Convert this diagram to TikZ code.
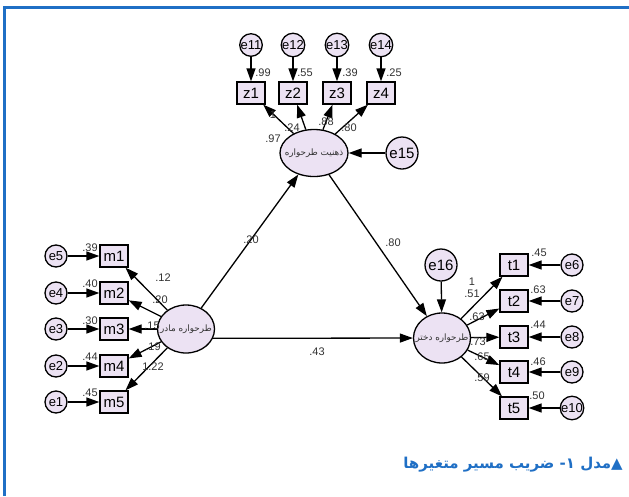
\documentclass[tikz,border=0pt]{standalone}
\usepackage{fontspec}
\setmainfont{Liberation Sans}
\newfontfamily\arabicfont[Script=Arabic]{DejaVu Sans}
\TeXXeTstate=1
\usetikzlibrary{arrows.meta,shapes.geometric}
\definecolor{lav}{RGB}{236,226,243}
\definecolor{frameblue}{RGB}{31,111,197}
\definecolor{lblgray}{RGB}{50,50,50}
\tikzset{
  obs/.style={draw, line width=1.3pt, fill=lav, minimum width=28pt, minimum height=22pt, inner sep=0pt, font=\fontsize{15}{15}\selectfont},
  err/.style={circle, draw, line width=1.3pt, fill=lav, minimum size=22pt, inner sep=0pt, font=\fontsize{13}{13}\selectfont},
  bigerr/.style={circle, draw, line width=1.3pt, fill=lav, minimum size=32pt, inner sep=0pt, font=\fontsize{15}{15}\selectfont},
  lat/.style={ellipse, draw, line width=1.3pt, fill=lav, inner sep=0pt, text=lblgray, font=\arabicfont\fontsize{8.8}{8.8}\selectfont},
  arr/.style={-{Triangle[length=13pt,width=9pt]}, line width=1.3pt},
  lbl/.style={font=\fontsize{11}{11}\selectfont, text=lblgray, inner sep=0pt},
}
\begin{document}
\begin{tikzpicture}[x=1pt,y=-1pt]
\useasboundingbox (0,0) rectangle (629,496);
\fill[white] (0,0) rectangle (629,496);
\draw[line width=3pt, frameblue] (4.5,496) -- (4.5,7.5) -- (629,7.5);

% latent variables
\node[lat, minimum width=68pt, minimum height=47pt] (top) at (314,153) {\makebox[0pt]{\beginR ذهنیت طرحواره\endR}};
\node[lat, minimum width=57pt, minimum height=48pt] (mother) at (186,329) {\makebox[0pt]{\beginR طرحواره مادر\endR}};
\node[lat, minimum width=57pt, minimum height=50pt] (daughter) at (442,338) {\makebox[0pt]{\beginR طرحواره دختر\endR}};

% top indicators
\foreach \i/\x in {1/251,2/293,3/337,4/381}{
  \node[obs] (z\i) at (\x,93) {z\i};
}
\node[err] (e11) at (251,45) {e11};
\node[err] (e12) at (293,45) {e12};
\node[err] (e13) at (337,45) {e13};
\node[err] (e14) at (381,45) {e14};
\node[bigerr] (e15) at (402,153) {e15};

% mother indicators
\node[obs] (m1) at (114,256) {m1};
\node[obs] (m2) at (114,293) {m2};
\node[obs] (m3) at (114,329) {m3};
\node[obs] (m4) at (114,366) {m4};
\node[obs] (m5) at (114,402) {m5};
\node[err] (e5) at (56,256) {e5};
\node[err] (e4) at (56,293) {e4};
\node[err] (e3) at (56,329) {e3};
\node[err] (e2) at (56,366) {e2};
\node[err] (e1) at (56,402) {e1};

% daughter indicators
\node[obs] (t1) at (514,265) {t1};
\node[obs] (t2) at (514,301) {t2};
\node[obs] (t3) at (514,337) {t3};
\node[obs] (t4) at (514,372) {t4};
\node[obs] (t5) at (514,408) {t5};
\node[err] (e6) at (572,265) {e6};
\node[err] (e7) at (572,301) {e7};
\node[err] (e8) at (572,337) {e8};
\node[err] (e9) at (572,372) {e9};
\node[err] (e10) at (572,408) {e10};
\node[bigerr] (e16) at (441,265) {e16};

% arrows
\foreach \i in {1,2,3,4}{ \draw[arr] (top) -- (z\i); }
\draw[arr] (e11) -- (z1);
\draw[arr] (e12) -- (z2);
\draw[arr] (e13) -- (z3);
\draw[arr] (e14) -- (z4);
\draw[arr] (e15) -- (top);

\foreach \i in {1,2,3,4,5}{ \draw[arr] (mother) -- (m\i); }
\draw[arr] (e5) -- (m1);
\draw[arr] (e4) -- (m2);
\draw[arr] (e3) -- (m3);
\draw[arr] (e2) -- (m4);
\draw[arr] (e1) -- (m5);

\foreach \i in {1,2,3,4,5}{ \draw[arr] (daughter) -- (t\i); }
\draw[arr] (e6) -- (t1);
\draw[arr] (e7) -- (t2);
\draw[arr] (e8) -- (t3);
\draw[arr] (e9) -- (t4);
\draw[arr] (e10) -- (t5);
\draw[arr] (e16) -- (daughter);

\draw[arr] (mother) -- (top);
\draw[arr] (top) -- (daughter);
\draw[arr] (mother.-19) -- (daughter);

% labels top
\node[lbl] at (263,73) {.99};
\node[lbl] at (305,73) {.55};
\node[lbl] at (350,73) {.39};
\node[lbl] at (394,73) {.25};
\node[lbl] at (273,115) {1};
\node[lbl] at (273,139) {.97};
\node[lbl] at (292,128) {.24};
\node[lbl] at (326,122) {.88};
\node[lbl] at (349,128) {.80};

% labels left
\node[lbl] at (90,248) {.39};
\node[lbl] at (90,284) {.40};
\node[lbl] at (90,321) {.30};
\node[lbl] at (90,357) {.44};
\node[lbl] at (90,393) {.45};
\node[lbl] at (163,278) {.12};
\node[lbl] at (160,300) {.20};
\node[lbl] at (152,326) {.15};
\node[lbl] at (153,347) {.19};
\node[lbl] at (153,367) {1.22};

% labels right
\node[lbl] at (539,253) {.45};
\node[lbl] at (538,290) {.63};
\node[lbl] at (538,325) {.44};
\node[lbl] at (538,362) {.46};
\node[lbl] at (537,396) {.50};
\node[lbl] at (472,282) {1};
\node[lbl] at (472,294) {.51};
\node[lbl] at (477,317) {.63};
\node[lbl] at (478,342) {.73};
\node[lbl] at (482,357) {.65};
\node[lbl] at (482,378) {.59};

% main path labels
\node[lbl] at (251,240) {.20};
\node[lbl] at (393,243) {.80};
\node[lbl] at (317,352) {.43};

% caption
\node[anchor=east, inner sep=0pt, text=frameblue, font=\arabicfont\bfseries\fontsize{15}{15}\selectfont] (caption) at (623,465) {\beginR ▲مدل ۱- ضریب مسیر متغیرها\endR};
\end{tikzpicture}
\end{document}
